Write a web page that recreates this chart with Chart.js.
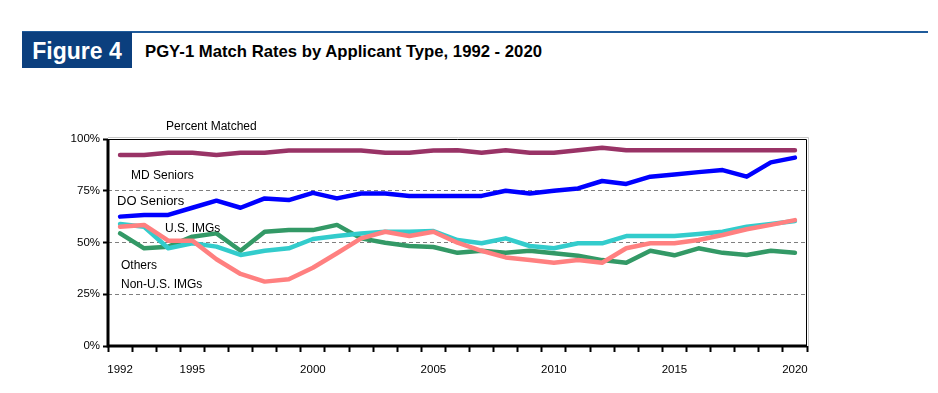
<!DOCTYPE html>
<html>
<head>
<meta charset="utf-8">
<script src="https://cdn.jsdelivr.net/npm/chart.js@4"></script>
<style>
  html, body { margin: 0; padding: 0; background: #fff; }
  body { width: 938px; height: 393px; position: relative; overflow: hidden; font-family: "Liberation Sans", Arial, sans-serif; }
  .topline { position: absolute; left: 22px; top: 31px; width: 906px; height: 2px; background: #1f5b9b; }
  .figbox { position: absolute; left: 22px; top: 32px; width: 110px; height: 36px; background: #0b3f7e;
            color: #fff; font-weight: bold; font-size: 23px; line-height: 38px; text-align: center; }
  .title { position: absolute; left: 145px; top: 42px; font-weight: bold; font-size: 16.7px; color: #000; }
  #wrap { position: absolute; left: 0; top: 0; width: 938px; height: 393px; }
</style>
</head>
<body>
<div class="topline"></div>
<div class="figbox">Figure 4</div>
<div class="title">PGY-1 Match Rates by Applicant Type, 1992 - 2020</div>
<div id="wrap"><canvas id="chart"></canvas></div>
<script>
/* ── Data ─────────────────────────────────────────────────────────── */
const years = [];
for (let y = 1992; y <= 2020; y++) years.push(y);

const labeledYears = [1992, 1995, 2000, 2005, 2010, 2015, 2020];

const mdSeniors = [92.3, 92.3, 93.4, 93.4, 92.3, 93.4, 93.4, 94.4, 94.4, 94.4, 94.4, 93.4, 93.4, 94.5,
                   94.6, 93.4, 94.6, 93.4, 93.4, 94.6, 95.8, 94.6, 94.6, 94.6, 94.6, 94.6, 94.6, 94.6, 94.6];
const doSeniors = [62.5, 63.3, 63.3, 66.8, 70.2, 66.8, 71.3, 70.5, 74.0, 71.3, 73.7, 73.7, 72.5, 72.5,
                   72.5, 72.5, 75.0, 73.7, 75.0, 76.1, 79.7, 78.3, 81.8, 82.9, 84.0, 85.0, 81.8, 88.7, 91.0];
const usImgs    = [58.9, 57.6, 47.2, 49.6, 48.0, 44.0, 46.0, 47.2, 51.7, 53.1, 54.4, 55.2, 55.2, 55.5,
                   51.2, 49.6, 52.0, 48.3, 47.2, 49.6, 49.6, 53.1, 53.1, 53.1, 54.1, 55.2, 57.6, 58.9, 60.4];
const others    = [54.4, 47.2, 48.0, 52.8, 54.4, 46.0, 55.2, 56.0, 56.0, 58.5, 52.0, 49.9, 48.3, 47.8,
                   45.0, 46.0, 45.0, 46.0, 44.8, 43.6, 41.5, 40.2, 46.0, 43.8, 47.2, 45.0, 44.0, 46.0, 45.0];
const nonUsImgs = [57.6, 58.5, 50.9, 50.9, 41.9, 34.8, 31.1, 32.2, 37.8, 44.8, 52.0, 55.2, 53.1, 55.2,
                   49.9, 46.0, 42.8, 41.5, 40.2, 41.5, 40.2, 47.2, 49.6, 49.6, 51.2, 53.6, 56.4, 58.5, 60.8];

/* ── Chart area geometry ──────────────────────────────────────────── */
const AREA = { left: 108, right: 807, top: 139, bottom: 346 };

/* Text labels placed on the plot */
const annotations = [
  { text: "Percent Matched", x: 166, y: 127, size: 12 },
  { text: "MD Seniors",      x: 131, y: 176, size: 12 },
  { text: "DO Seniors",      x: 117, y: 201, size: 13 },
  { text: "U.S. IMGs",       x: 165, y: 229, size: 12 },
  { text: "Others",          x: 121, y: 266, size: 12 },
  { text: "Non-U.S. IMGs",   x: 121, y: 285, size: 12 },
];

const framePlugin = {
  id: "frame",
  beforeDatasetsDraw(chart) {
    const { ctx, chartArea: a } = chart;
    ctx.save();
    // light shadow to the right/top of the frame
    ctx.strokeStyle = "#c8c8c8";
    ctx.lineWidth = 1;
    ctx.beginPath();
    ctx.moveTo(a.left, a.top - 1.5);
    ctx.lineTo(a.right + 1.5, a.top - 1.5);
    ctx.lineTo(a.right + 1.5, a.bottom);
    ctx.stroke();
    ctx.strokeStyle = "#000";
    ctx.beginPath();
    ctx.moveTo(a.left, a.top + 0.5);
    ctx.lineTo(a.right - 0.5, a.top + 0.5);
    ctx.lineTo(a.right - 0.5, a.bottom);
    ctx.stroke();
    ctx.restore();
  },
  afterDatasetsDraw(chart) {
    const { ctx, chartArea: a } = chart;
    ctx.save();
    ctx.strokeStyle = "#000";
    ctx.lineWidth = 3;
    ctx.beginPath();
    ctx.moveTo(a.left, a.top);
    ctx.lineTo(a.left, a.bottom);
    ctx.lineTo(a.right, a.bottom);
    ctx.stroke();
    ctx.fillStyle = "#000";
    ctx.textBaseline = "middle";
    ctx.textAlign = "left";
    annotations.forEach((t) => {
      ctx.font = t.size + 'px "Liberation Sans", Arial, sans-serif';
      ctx.fillText(t.text, t.x, t.y);
    });
    ctx.restore();
  },
};

function series(data, color) {
  return {
    data,
    borderColor: color,
    backgroundColor: color,
    borderWidth: 4.5,
    pointRadius: 0,
    tension: 0,
    borderJoinStyle: "round",
    borderCapStyle: "round",
  };
}

new Chart(document.getElementById("chart"), {
  type: "line",
  data: {
    labels: years,
    datasets: [
      series(nonUsImgs, "#ff8080"),
      series(usImgs,    "#33cccc"),
      series(others,    "#339966"),
      series(doSeniors, "#0000ff"),
      series(mdSeniors, "#993366"),
    ],
  },
  options: {
    responsive: true,
    maintainAspectRatio: false,
    animation: false,
    layout: { padding: { left: 0, right: 938 - AREA.right, top: AREA.top, bottom: 0 } },
    plugins: { legend: { display: false }, tooltip: { enabled: false } },
    scales: {
      x: {
        type: "category",
        offset: true,
        afterFit: (s) => { s.height = 393 - AREA.bottom; },
        border: { display: false },
        grid: {
          offset: true,
          drawOnChartArea: false,
          drawTicks: true,
          tickLength: 6,
          tickColor: "#000",
          tickWidth: 2,
        },
        ticks: {
          autoSkip: false,
          maxRotation: 0,
          padding: 11,
          color: "#000",
          font: { family: "Liberation Sans", size: 11.5 },
          callback: function (v, i) {
            const yr = years[i];
            return labeledYears.includes(yr) ? String(yr) : "";
          },
        },
      },
      y: {
        min: 0,
        max: 100,
        afterFit: (s) => { s.width = AREA.left; },
        border: { display: false, dash: [4, 3] },
        grid: {
          color: (c) => (c.tick.value === 0 || c.tick.value === 100 ? "rgba(0,0,0,0)" : "#7f7f7f"),
          lineWidth: 1,
          drawTicks: true,
          tickLength: 5,
          tickColor: "#000",
          tickWidth: 2,
          tickBorderDash: [],
        },
        ticks: {
          stepSize: 25,
          padding: 3,
          color: "#000",
          font: { family: "Liberation Sans", size: 11.5 },
          callback: (v) => v + "%",
        },
      },
    },
  },
  plugins: [framePlugin],
});
</script>
</body>
</html>
